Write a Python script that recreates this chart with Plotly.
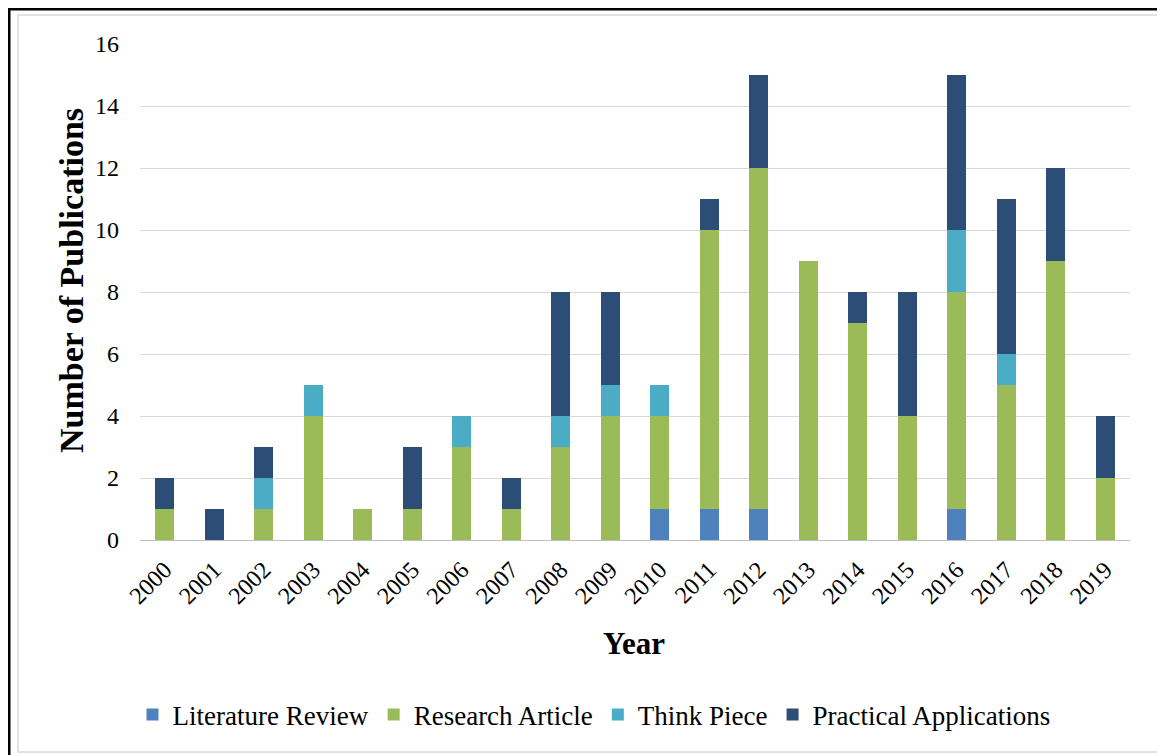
import plotly.graph_objects as go

years = [str(y) for y in range(2000, 2020)]
literature_review = [0, 0, 0, 0, 0, 0, 0, 0, 0, 0, 1, 1, 1, 0, 0, 0, 1, 0, 0, 0]
research_article = [1, 0, 1, 4, 1, 1, 3, 1, 3, 4, 3, 9, 11, 9, 7, 4, 7, 5, 9, 2]
think_piece = [0, 0, 1, 1, 0, 0, 1, 0, 1, 1, 1, 0, 0, 0, 0, 0, 2, 1, 0, 0]
practical_applications = [1, 1, 1, 0, 0, 2, 0, 1, 4, 3, 0, 1, 3, 0, 1, 4, 5, 5, 3, 2]

series = [
    ("Literature Review", literature_review, "#4F81BD"),
    ("Research Article", research_article, "#9BBB59"),
    ("Think Piece", think_piece, "#4BACC6"),
    ("Practical Applications", practical_applications, "#2C4D75"),
]

# page puts the figure 8px in from the corner, so work in page pixels minus 8
OFF = 8
W, H = 1165 - OFF, 755 - OFF
L, R, T, B = 140 - OFF, 1130 - OFF, 44 - OFF, 540 - OFF  # plot area


def px(x):
    return (x - OFF - L) / (R - L)


def py(y):
    return (B - (y - OFF)) / (B - T)


fig = go.Figure()
for name, vals, color in series:
    fig.add_trace(go.Bar(x=years, y=vals, name=name, marker_color=color,
                         marker_line_width=0))

font = "Liberation Serif, Times New Roman, serif"

fig.update_layout(
    width=W, height=H,
    barmode="stack", bargap=0.61,
    margin=dict(l=L, r=W - R, t=T, b=H - B, pad=0),
    paper_bgcolor="white", plot_bgcolor="white",
    font=dict(family=font, color="#000000", size=24),
    xaxis=dict(tickangle=-45, tickfont=dict(size=24), showgrid=False,
               showline=False, ticks="", zeroline=False, ticklabelstandoff=10),
    yaxis=dict(range=[0, 16], dtick=2, gridcolor="#d9d9d9", gridwidth=1,
               zeroline=True, zerolinecolor="#bfbfbf", zerolinewidth=1,
               tickfont=dict(size=24), ticks="", ticklabelstandoff=20),
    legend=dict(orientation="h", x=px(594), y=py(715), xanchor="center",
                yanchor="middle", font=dict(size=27), itemwidth=30,
                traceorder="normal", bgcolor="rgba(0,0,0,0)"),
    showlegend=True,
    annotations=[
        dict(text="<b>Year</b>", x=px(634), y=py(643), xref="paper", yref="paper",
             showarrow=False, font=dict(size=31, family=font),
             xanchor="center", yanchor="middle"),
        dict(text="<b>Number of Publications</b>", x=px(71), y=py(281),
             xref="paper", yref="paper", showarrow=False, textangle=-90,
             font=dict(size=34, family=font), xanchor="center", yanchor="middle"),
    ],
    shapes=[
        dict(type="rect", xref="paper", yref="paper", x0=px(18), x1=px(1158),
             y0=py(752), y1=py(15), line=dict(color="#d9d9d9", width=1.5)),
        dict(type="line", xref="paper", yref="paper", x0=px(9), x1=px(9),
             y0=py(8), y1=py(760), line=dict(color="#000000", width=3)),
        dict(type="line", xref="paper", yref="paper", x0=px(8), x1=px(1170),
             y0=py(9), y1=py(9), line=dict(color="#000000", width=3)),
    ],
)

fig.write_html("out.html")
